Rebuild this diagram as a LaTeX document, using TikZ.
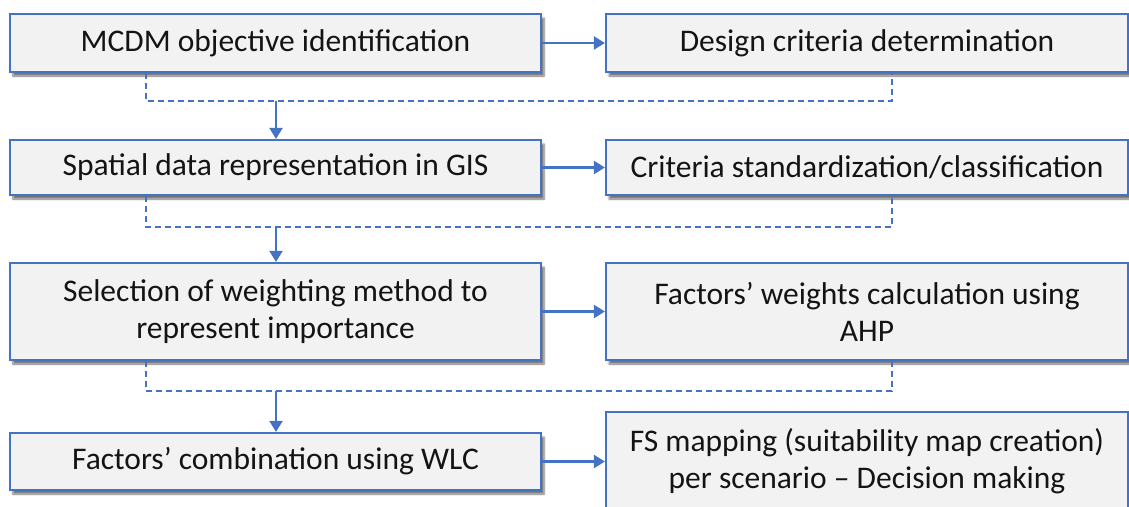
\documentclass[tikz,border=0pt]{standalone}
\usepackage{fontspec}
\setmainfont{Carlito}
\usetikzlibrary{shadows.blur,arrows.meta}
\definecolor{bblue}{HTML}{4472C4}
\definecolor{bfill}{HTML}{F2F2F2}
\tikzset{
  box/.style={draw=bblue, line width=2.2pt, fill=bfill, align=center, inner sep=0pt,
    font=\fontsize{31.5}{37}\selectfont, text=black!92,
    blur shadow={shadow xshift=3pt, shadow yshift=-4pt, shadow blur steps=6, shadow opacity=55}},
  arr/.style={draw=bblue, line width=2.2pt, -{Triangle[length=11pt,width=13pt]}},
  dashline/.style={draw=bblue, line width=1.3pt, dash pattern=on 6pt off 4pt}
}
\begin{document}
\begin{tikzpicture}[x=1pt,y=-1pt]
\useasboundingbox (0,0) rectangle (1129,506);
\begin{scope}
\clip (0,0) rectangle (1129,506);
\node[box, minimum width=531pt, minimum height=58pt] (l1) at (275.5,43) {MCDM objective identification};
\node[box, minimum width=522pt, minimum height=58pt] (r1) at (867,43) {Design criteria determination};
\node[box, minimum width=531pt, minimum height=55pt] (l2) at (275.5,167.5) {Spatial data representation in GIS};
\node[box, minimum width=522pt, minimum height=55pt] (r2) at (867,167.5) {Criteria standardization/classification};
\node[box, minimum width=531pt, minimum height=97pt] (l3) at (275.5,311.5) {Selection of weighting method to\\represent importance};
\node[box, minimum width=522pt, minimum height=97pt] (r3) at (867,311.5) {Factors’ weights calculation using\\AHP};
\node[box, minimum width=531pt, minimum height=57pt] (l4) at (275.5,461.5) {Factors’ combination using WLC};
\node[box, minimum width=522pt, minimum height=98pt] (r4) at (867,461) {FS mapping (suitability map creation)\\per scenario -- Decision making};

\draw[arr] (l1) -- (r1);
\draw[arr] (l2) -- (r2);
\draw[arr] (l3) -- (r3);
\draw[arr] (l4.east) -- (l4.east -| r4.west);

\coordinate (j1) at (276,101);
\coordinate (j2) at (276,227);
\coordinate (j3) at (276,391);
\draw[dashline] ([xshift=137pt]l1.south west) |- (j1) -| ([xshift=287pt]r1.south west);
\draw[dashline] ([xshift=137pt]l2.south west) |- (j2) -| ([xshift=287pt]r2.south west);
\draw[dashline] ([xshift=137pt]l3.south west) |- (j3) -| ([xshift=287pt]r3.south west);
\draw[arr] (j1) -- (l2.north -| j1);
\draw[arr] (j2) -- (l3.north -| j2);
\draw[arr] (j3) -- (l4.north -| j3);
\end{scope}
\end{tikzpicture}
\end{document}
